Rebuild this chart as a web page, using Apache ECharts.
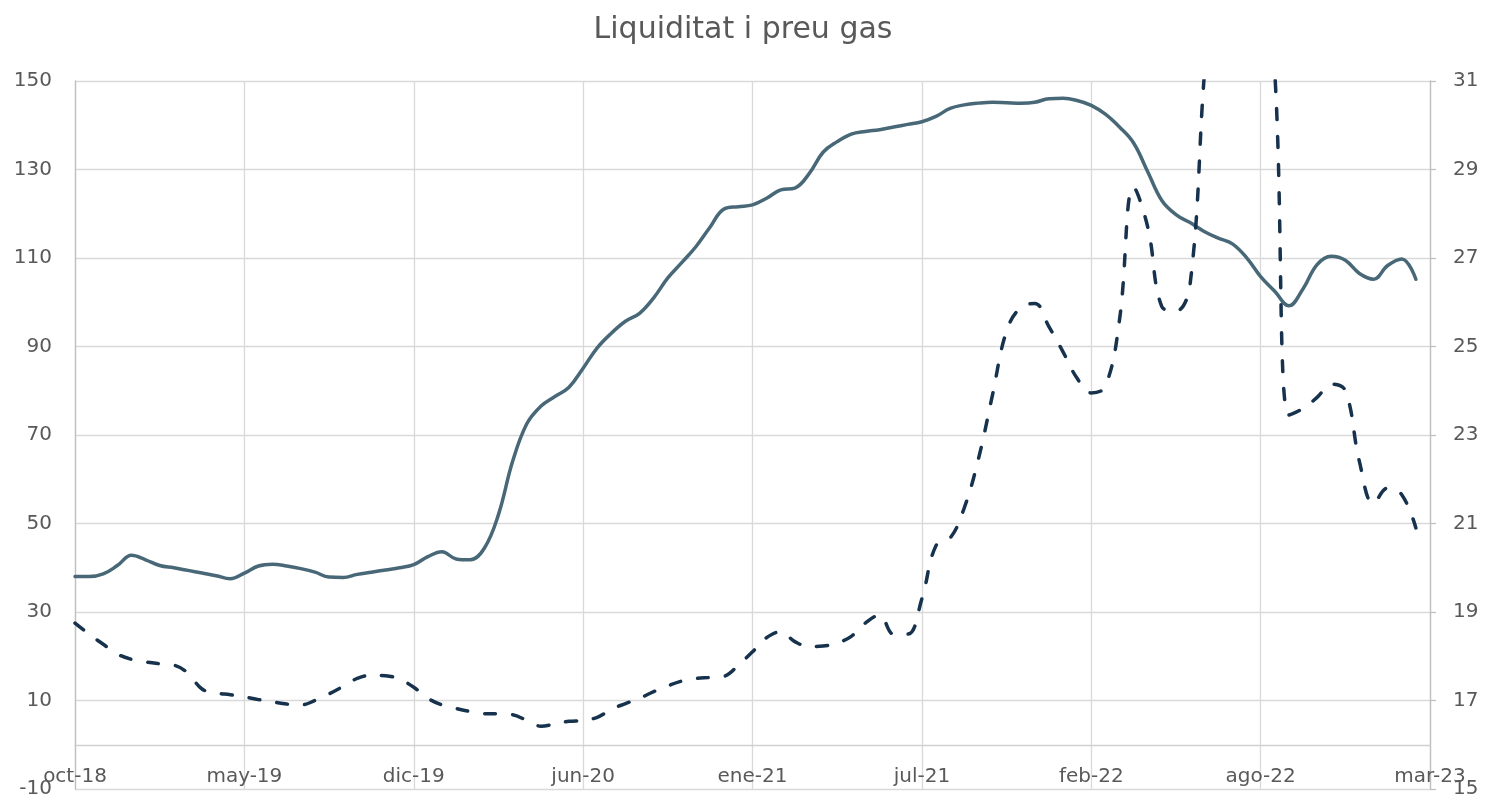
<!DOCTYPE html>
<html>
<head>
<meta charset="utf-8">
<title>Liquiditat i preu gas</title>
<script src="https://cdn.jsdelivr.net/npm/echarts@6/dist/echarts.min.js"></script>
<style>
  html, body { margin: 0; padding: 0; background: #fff; }
  #main { width: 1486px; height: 798px; }
</style>
</head>
<body>
<div id="main"></div>
<script>
// etiquetes de l'eix X (una cada 12 punts)
const tickLabels = ['oct-18', 'may-19', 'dic-19', 'jun-20', 'ene-21', 'jul-21', 'feb-22', 'ago-22', 'mar-23'];
const step = 12;

// liquiditat (eix esquerre)
const liquidity = [
  38, 38, 38.6, 40.5, 42.8, 41.8, 40.5, 40, 39.4, 38.8, 38.2, 37.5,
  38.8, 40.4, 40.8, 40.4, 39.8, 39, 37.9, 37.8, 38.5, 39, 39.5, 40,
  40.7, 42.5, 43.6, 42, 41.8, 44.4, 52, 64, 72.5, 76.5, 78.7, 80.8,
  85.1, 89.7, 93, 95.7, 97.5, 101, 105.5, 109, 112.6, 117, 121.1, 121.6,
  122, 123.5, 125.4, 125.8, 129, 133.9, 136.3, 138, 138.6, 139, 139.6, 140.2,
  140.8, 142, 143.8, 144.6, 145, 145.2, 145.1, 145, 145.2, 146, 146.1, 145.6,
  144.5, 142.5, 139.6, 136, 129.5, 123, 119.8, 118, 116, 114.5, 113.2, 110.1,
  105.8, 102.5, 99.2, 103, 108.5, 110.4, 109.5, 106.5, 105.2, 108.3, 109.8, 105.2,
  null
];

// preu gas (eix dret)
const gasPrice = [
  18.75, 18.5, 18.27, 18.05, 17.93, 17.87, 17.83, 17.8, 17.62, 17.26, 17.17, 17.13,
  17.08, 17.02, 16.97, 16.92, 16.9, 17.0, 17.15, 17.32, 17.5, 17.57, 17.56, 17.48,
  17.3, 17.05, 16.9, 16.82, 16.75, 16.7, 16.7, 16.68, 16.55, 16.42, 16.47, 16.53,
  16.55, 16.62, 16.8, 16.93, 17.05, 17.2, 17.33, 17.44, 17.5, 17.52, 17.55, 17.8,
  18.1, 18.42, 18.55, 18.33, 18.22, 18.23, 18.3, 18.45, 18.75, 18.93, 18.5, 18.5,
  19.3, 20.5, 20.67, 21.35, 22.45, 23.9, 25.35, 25.88, 25.97, 25.45, 24.88, 24.28,
  23.95, 24.1, 25.6, 28.6, 27.7, 25.9, 25.8, 26.4, 31.1, 35, 36.5, 36,
  34, 31.2, 23.45, 23.6, 23.85, 24.15, 24.0, 22.4, 21.45, 21.8, 21.65, 20.9,
  null
];

const categories = liquidity.map((v, i) => (i % step === 0 ? tickLabels[i / step] : ''));

const font = 'DejaVu Sans';
const textColor = '#595959';
const gridColor = '#d9d9d9';

const chart = echarts.init(document.getElementById('main'));

const option = {
  animation: false,
  backgroundColor: '#fff',
  textStyle: { fontFamily: font },
  title: {
    text: 'Liquiditat i preu gas',
    left: 'center',
    top: 10,
    textStyle: { fontFamily: font, fontSize: 30, fontWeight: 'normal', color: textColor }
  },
  grid: { left: 75, right: 56, top: 81, bottom: 9, containLabel: false, outerBoundsMode: 'none' },
  xAxis: {
    type: 'category',
    data: categories,
    boundaryGap: false,
    axisLine: { show: true, onZero: true, onZeroAxisIndex: 0, lineStyle: { color: '#d0d0d0', width: 1.3 } },
    axisTick: { show: false },
    axisLabel: {
      interval: (i) => i % step === 0,
      margin: -22,
      color: textColor,
      fontSize: 20,
      fontFamily: font,
      showMinLabel: true,
      showMaxLabel: true
    },
    splitLine: {
      show: true,
      interval: (i) => i % step === 0,
      lineStyle: { color: gridColor, width: 1.3 }
    }
  },
  yAxis: [
    {
      type: 'value',
      min: -10,
      max: 150,
      interval: 20,
      axisLine: { show: true, lineStyle: { color: '#bfbfbf', width: 1.3 } },
      axisTick: { show: false },
      axisLabel: { margin: 23, color: textColor, fontSize: 20, fontFamily: font },
      splitLine: { show: true, lineStyle: { color: gridColor, width: 1.3 } }
    },
    {
      type: 'value',
      min: 15,
      max: 31,
      interval: 2,
      position: 'right',
      axisLine: { show: true, lineStyle: { color: '#bfbfbf', width: 1.3 } },
      axisTick: { show: true, length: 6, lineStyle: { color: '#bfbfbf', width: 1.3 } },
      axisLabel: { margin: 23, color: textColor, fontSize: 20, fontFamily: font },
      splitLine: { show: false }
    }
  ],
  series: [
    {
      name: 'Liquiditat',
      type: 'line',
      yAxisIndex: 0,
      data: liquidity,
      smooth: 0.4,
      showSymbol: false,
      clip: true,
      lineStyle: { color: '#486878', width: 3.5, cap: 'round', join: 'round' },
      z: 3
    },
    {
      name: 'Preu gas',
      type: 'line',
      yAxisIndex: 1,
      data: gasPrice,
      smooth: 0.4,
      showSymbol: false,
      clip: true,
      lineStyle: { color: '#17324d', width: 3.5, type: [11, 17], cap: 'round', join: 'round' },
      z: 4
    }
  ]
};

chart.setOption(option);
window.addEventListener('resize', () => chart.resize());
</script>
</body>
</html>
